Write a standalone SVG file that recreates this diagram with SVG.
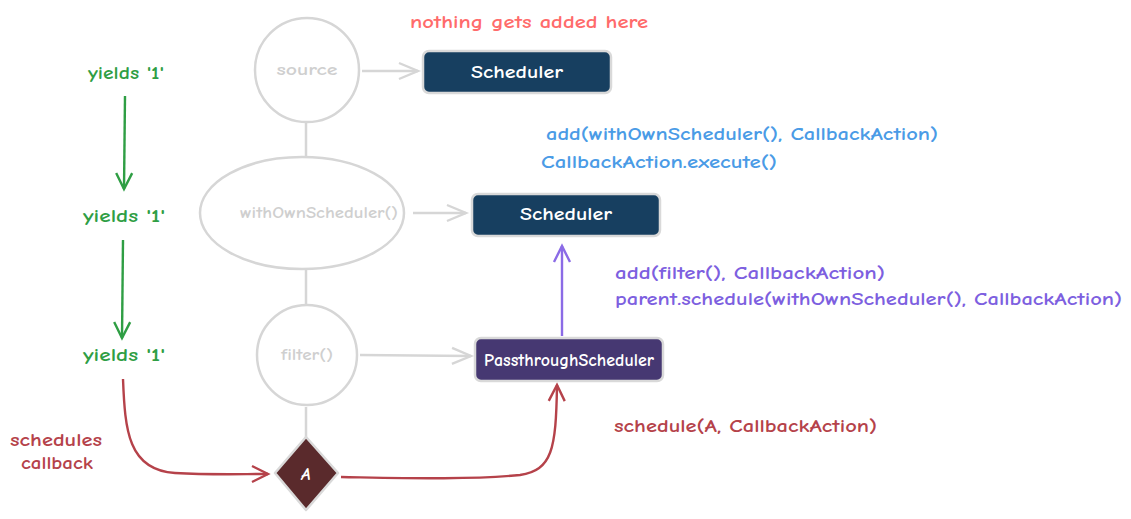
<svg xmlns="http://www.w3.org/2000/svg" width="1131" height="519" viewBox="0 0 1131 519">
<style>
text{font-family:"Comic Neue","Open Sans","Liberation Sans",sans-serif;font-weight:bold}
.ghost{fill:none;stroke:#d6d6d6;stroke-width:2.5}
.gtext{fill:#cfcfcf;font-size:16px;text-anchor:middle;dominant-baseline:central}
.box{stroke:#d9d9d9;stroke-width:2.5}
.btext{fill:#ffffff;font-size:19px;text-anchor:middle;dominant-baseline:central}
.green{fill:#2f9e44;font-size:19px;text-anchor:middle}
.blue{fill:#4a9be6;font-size:19px}
.purple{fill:#7d5fe0;font-size:19px}
.red{fill:#b5424a;font-size:19px}
.coral{fill:#ff6b6b;font-size:19px}
</style>
<defs>
<marker id="ag" markerWidth="20" markerHeight="20" refX="17" refY="10" orient="auto" markerUnits="userSpaceOnUse"><path d="M1,2 L17,10 L1,18" fill="none" stroke="#2f9e44" stroke-width="2.4"/></marker>
<marker id="ar" markerWidth="20" markerHeight="20" refX="17" refY="10" orient="auto" markerUnits="userSpaceOnUse"><path d="M1,2 L17,10 L1,18" fill="none" stroke="#b5424a" stroke-width="2.4"/></marker>
<marker id="ap" markerWidth="20" markerHeight="20" refX="17" refY="10" orient="auto" markerUnits="userSpaceOnUse"><path d="M1,2 L17,10 L1,18" fill="none" stroke="#8b6be6" stroke-width="2.4"/></marker>
<marker id="ay" markerWidth="24" markerHeight="20" refX="20" refY="10" orient="auto" markerUnits="userSpaceOnUse"><path d="M1,2 L20,10 L1,18" fill="none" stroke="#d6d6d6" stroke-width="2.4"/></marker>
</defs>
<g id="connectors">
<line class="ghost" x1="306" y1="123" x2="306" y2="157"/>
<line class="ghost" x1="306" y1="270" x2="306" y2="305"/>
<line class="ghost" x1="306" y1="407" x2="306" y2="440"/>
<line class="ghost" x1="362" y1="71" x2="418" y2="71" marker-end="url(#ay)"/>
<line class="ghost" x1="413" y1="213" x2="466" y2="213" marker-end="url(#ay)"/>
<line class="ghost" x1="360" y1="355" x2="471" y2="356" marker-end="url(#ay)"/>
<line x1="125" y1="96" x2="124" y2="189" stroke="#2f9e44" stroke-width="2.4" marker-end="url(#ag)"/>
<line x1="123" y1="240" x2="122" y2="338" stroke="#2f9e44" stroke-width="2.4" marker-end="url(#ag)"/>
<line x1="562" y1="336" x2="562" y2="246" stroke="#8b6be6" stroke-width="2.4" marker-end="url(#ap)"/>
<path d="M123,379 C125,430 128,470 175,473 C210,475 240,474 268,474" fill="none" stroke="#b5424a" stroke-width="2.4" marker-end="url(#ar)"/>
<path d="M341,477 C400,478 470,480 520,475 C552,470 556,450 557,385" fill="none" stroke="#b5424a" stroke-width="2.4" marker-end="url(#ar)"/>
</g>
<g id="node-source">
<circle class="ghost" cx="307" cy="70" r="52"/>
<text class="gtext" x="307" y="70" textLength="61" lengthAdjust="spacingAndGlyphs">source</text>
</g>
<g id="node-withOwnScheduler">
<ellipse class="ghost" cx="302" cy="213" rx="102" ry="56"/>
<text class="gtext" x="240" y="213" style="text-anchor:start" font-size="15" textLength="158" lengthAdjust="spacingAndGlyphs">withOwnScheduler()</text>
</g>
<g id="node-filter">
<circle class="ghost" cx="307" cy="355" r="50"/>
<text class="gtext" x="307" y="355" textLength="52" lengthAdjust="spacingAndGlyphs">filter()</text>
</g>
<g id="node-A">
<path d="M306,437 L338,473 L306,510 L275,473 Z" fill="#5a2a2c" stroke="#d9d9d9" stroke-width="2.5" stroke-linejoin="round"/>
<text x="306" y="474" fill="#ffffff" font-size="17" font-style="italic" text-anchor="middle" dominant-baseline="central">A</text>
</g>
<g id="node-scheduler1">
<rect class="box" x="423" y="51" width="188" height="42" rx="6" fill="#173f60"/>
<text class="btext" x="471" y="72" style="text-anchor:start" textLength="92" lengthAdjust="spacingAndGlyphs">Scheduler</text>
</g>
<g id="node-scheduler2">
<rect class="box" x="472" y="194" width="188" height="42" rx="6" fill="#173f60"/>
<text class="btext" x="520" y="214" style="text-anchor:start" textLength="92" lengthAdjust="spacingAndGlyphs">Scheduler</text>
</g>
<g id="node-passthrough">
<rect class="box" x="475" y="338" width="188" height="43" rx="6" fill="#463872"/>
<text class="btext" x="484" y="360" style="text-anchor:start" font-size="15" textLength="170" lengthAdjust="spacingAndGlyphs">PassthroughScheduler</text>
</g>
<g id="labels">
<text class="coral" x="410" y="28" textLength="238" lengthAdjust="spacingAndGlyphs">nothing gets added here</text>
<text class="green" x="88" y="79" style="text-anchor:start" textLength="76" lengthAdjust="spacingAndGlyphs">yields '1'</text>
<text class="green" x="83" y="222" style="text-anchor:start" textLength="82" lengthAdjust="spacingAndGlyphs">yields '1'</text>
<text class="green" x="83" y="361" style="text-anchor:start" textLength="82" lengthAdjust="spacingAndGlyphs">yields '1'</text>
<text class="blue" x="546" y="140" textLength="392" lengthAdjust="spacingAndGlyphs">add(withOwnScheduler(), CallbackAction)</text>
<text class="blue" x="541" y="168" textLength="236" lengthAdjust="spacingAndGlyphs">CallbackAction.execute()</text>
<text class="purple" x="615" y="279" textLength="270" lengthAdjust="spacingAndGlyphs">add(filter(), CallbackAction)</text>
<text class="purple" x="615" y="305" textLength="507" lengthAdjust="spacingAndGlyphs">parent.schedule(withOwnScheduler(), CallbackAction)</text>
<text class="red" x="614" y="432" textLength="263" lengthAdjust="spacingAndGlyphs">schedule(A, CallbackAction)</text>
<text class="red" x="10" y="446" textLength="92" lengthAdjust="spacingAndGlyphs">schedules</text>
<text class="red" x="21" y="469" textLength="72" lengthAdjust="spacingAndGlyphs">callback</text>
</g>
</svg>
